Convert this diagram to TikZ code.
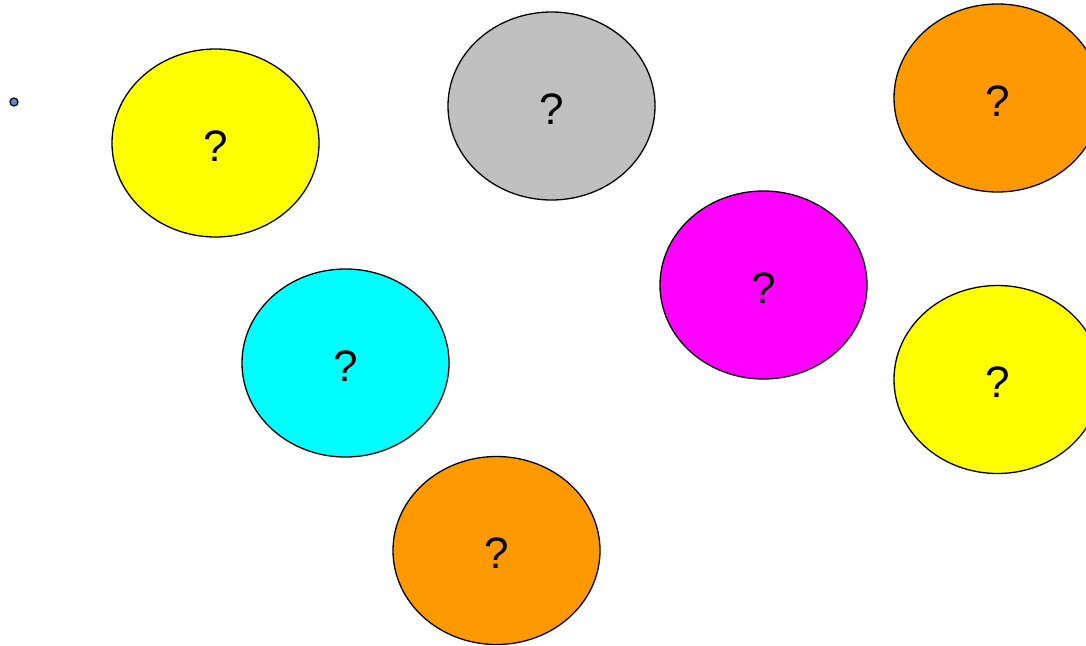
\documentclass[tikz,border=0pt]{standalone}
\usepackage{fontspec}
\setmainfont{Liberation Sans}
\usetikzlibrary{shapes.geometric}
\definecolor{cyel}{HTML}{FFFF00}
\definecolor{cgray}{HTML}{C0C0C0}
\definecolor{corange}{HTML}{FF9900}
\definecolor{cmag}{HTML}{FF00FF}
\definecolor{ccyan}{HTML}{00FFFF}
\definecolor{cdot}{HTML}{5A8AD0}
\begin{document}
\begin{tikzpicture}[x=1pt,y=-1pt,
  blob/.style={ellipse,draw=black,line width=1.3pt,minimum width=207pt,minimum height=188pt,inner sep=0pt,
    text height=36pt,text depth=0pt,font=\fontsize{44}{44}\selectfont},
  dotn/.style={circle,draw=black,line width=1.2pt,fill=cdot,minimum size=8pt,inner sep=0pt}]
\useasboundingbox (0,0) rectangle (1086,645);
\node[dotn] (d) at (14,102) {};
\node[blob,fill=cyel] (y1) at (215.5,143) {?};
\node[blob,fill=cgray] (g) at (551.5,106) {?};
\node[blob,fill=corange] (o1) at (997.5,98) {?};
\node[blob,fill=cmag] (m) at (763.5,285) {?};
\node[blob,fill=ccyan] (c) at (345.5,363) {?};
\node[blob,fill=cyel] (y2) at (997.5,379.5) {?};
\node[blob,fill=corange] (o2) at (496.5,550.5) {?};
\end{tikzpicture}
\end{document}
